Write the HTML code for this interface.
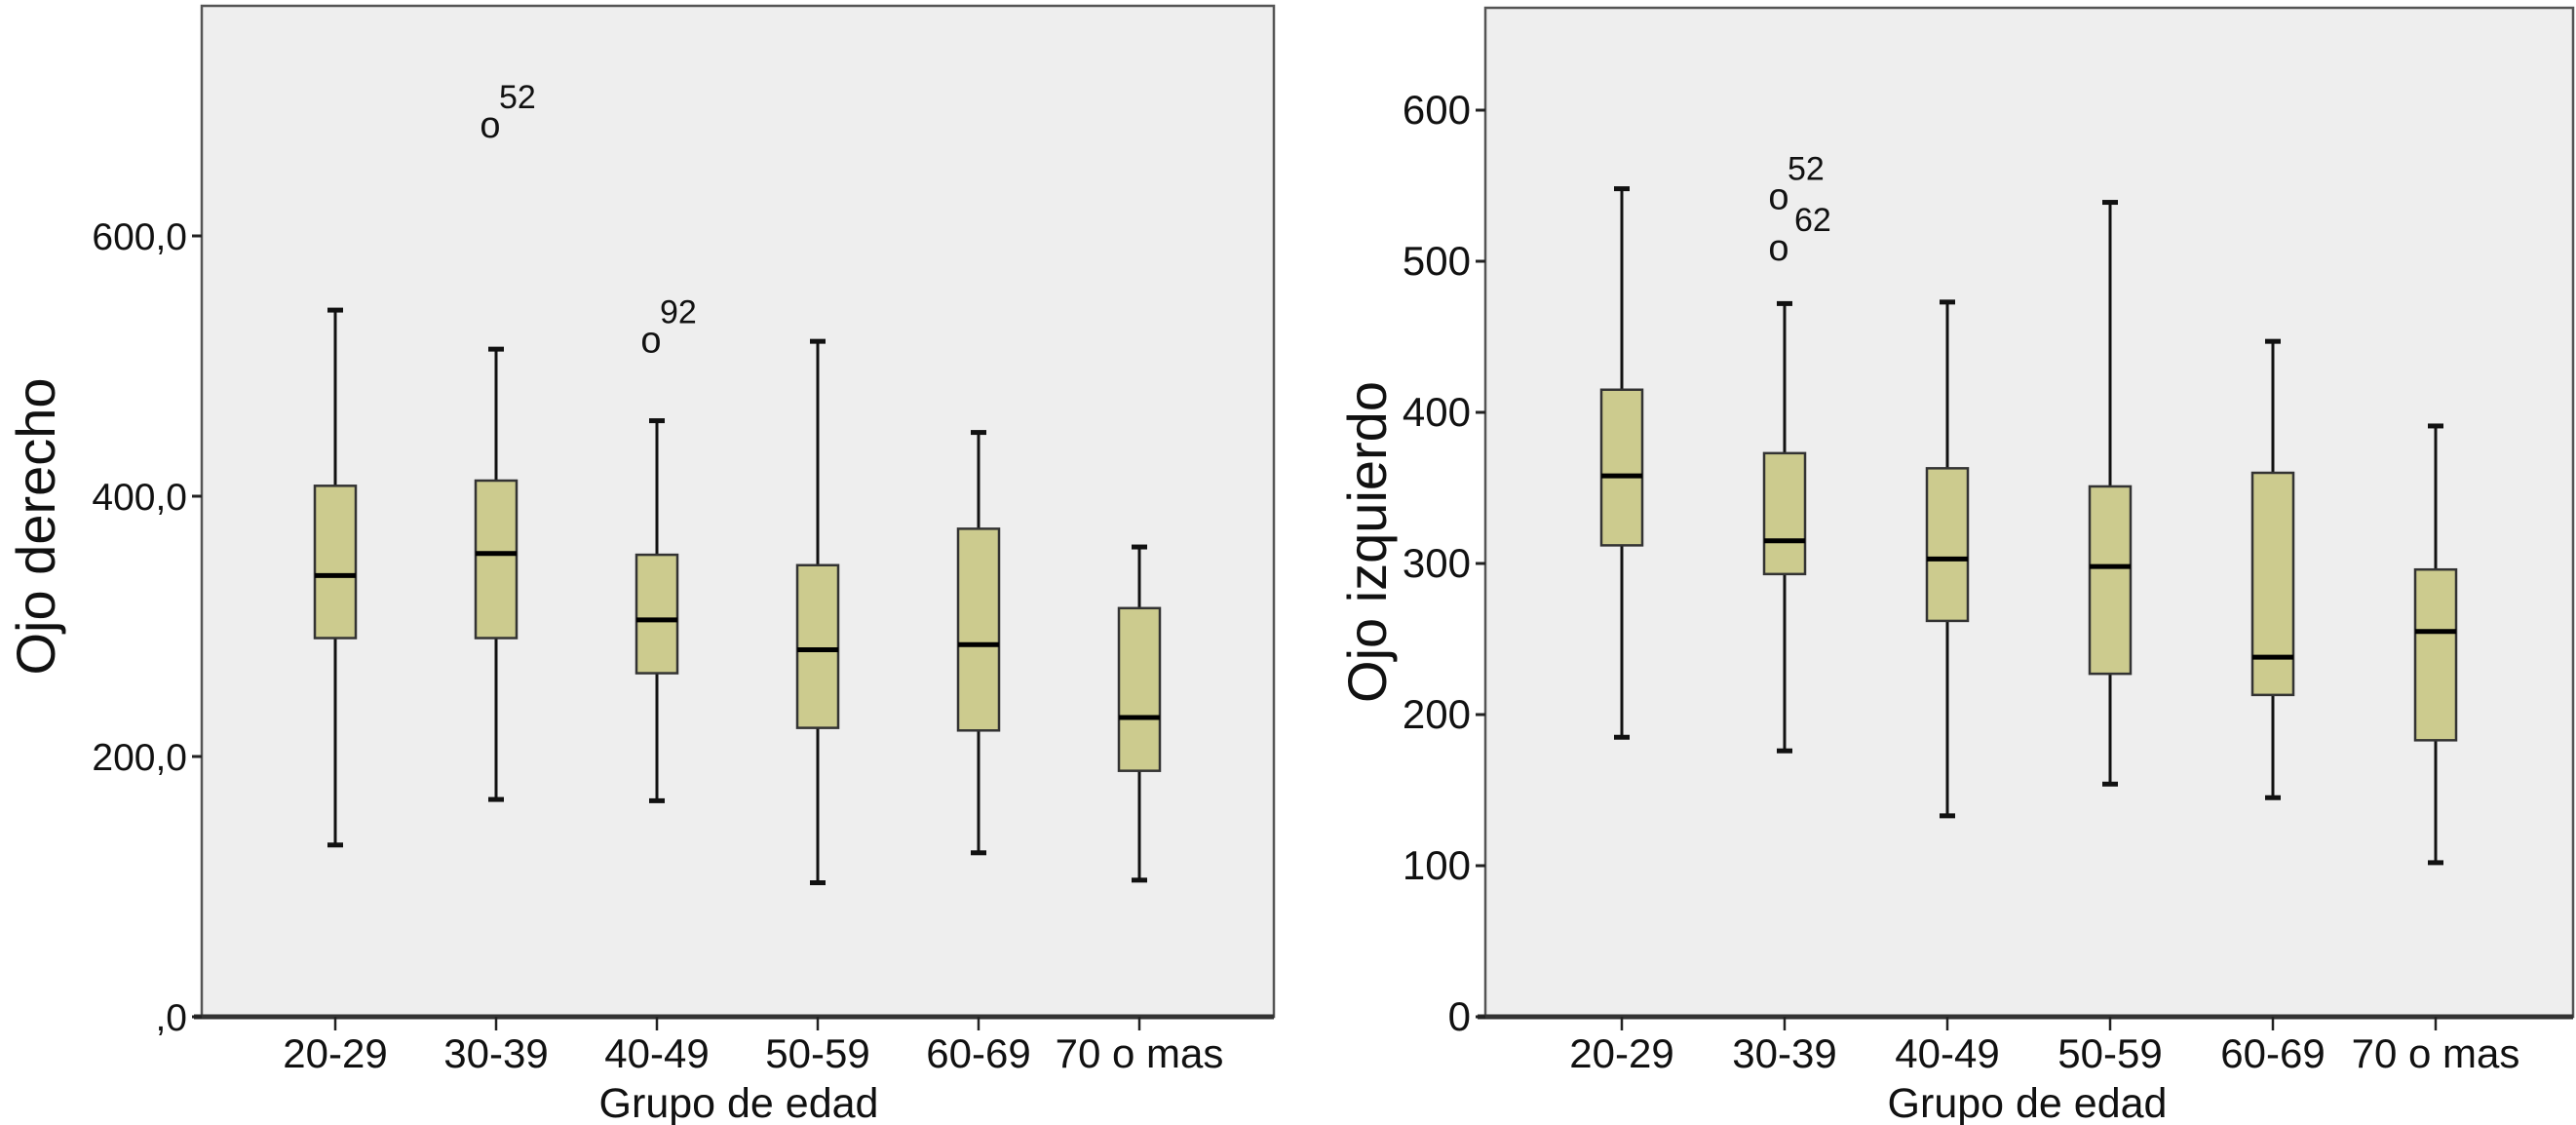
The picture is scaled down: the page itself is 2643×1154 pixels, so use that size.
<!DOCTYPE html>
<html><head><meta charset="utf-8"><style>
html,body{margin:0;padding:0;background:#fff;}
svg{display:block;font-family:"Liberation Sans",Arial,sans-serif;}
</style></head><body>
<svg id="chart" width="2643" height="1154" viewBox="0 0 2643 1154" xmlns="http://www.w3.org/2000/svg"></svg>
<script>
const categories = ["20-29","30-39","40-49","50-59","60-69","70 o mas"];
// Left: Ojo derecho
const leftMin = [132,167,166,103,126,105];
const leftQ1 = [291,291,264,222,220,189];
const leftMed = [339,356,305,282,286,230];
const leftQ3 = [408,412,355,347,375,314];
const leftMax = [543,513,458,519,449,361];
const leftOutlierCat = [1,2];
const leftOutlierVal = [683,518];
const leftOutlierLbl = ["52","92"];
const leftTicks = [0,200,400,600];
const leftTickLabels = [",0","200,0","400,0","600,0"];
// Right: Ojo izquierdo
const rightMin = [185,176,133,154,145,102];
const rightQ1 = [312,293,262,227,213,183];
const rightMed = [358,315,303,298,238,255];
const rightQ3 = [415,373,363,351,360,296];
const rightMax = [548,472,473,539,447,391];
const rightOutlierCat = [1,1];
const rightOutlierVal = [541,507];
const rightOutlierLbl = ["52","62"];
const rightTicks = [0,100,200,300,400,500,600];
const rightTickLabels = ["0","100","200","300","400","500","600"];

const NS="http://www.w3.org/2000/svg";
const svg=document.getElementById('chart');
function mk(tag,attrs,parent){const e=document.createElementNS(NS,tag);for(const k in attrs)e.setAttribute(k,attrs[k]);(parent||svg).appendChild(e);return e;}

function panel(cfg){
  const g=mk('g',{});
  
  
  const y=v=>cfg.y0-v*cfg.ys;
  const x=i=>cfg.x0+i*cfg.dx;
  const bg=mk('rect',{x:cfg.left,y:cfg.top,width:cfg.right-cfg.left,height:cfg.y0-cfg.top,fill:'#eeeeee',stroke:'#555',"stroke-width":2.5},g);
  
  
  const ax=mk('line',{x1:cfg.left-8,x2:cfg.right,y1:cfg.y0,y2:cfg.y0,stroke:'#333',"stroke-width":5},g);
  
  
  cfg.ticks.forEach((t,i)=>{
    const l=mk('line',{x1:cfg.left-10,x2:cfg.left,y1:y(t),y2:y(t),stroke:'#222',"stroke-width":3},g);
    
    
    const tx=mk('text',{x:cfg.left-15,y:y(t)+14,"text-anchor":"end","font-size":cfg.tickFs,fill:'#111'},g);
    tx.textContent=cfg.tickLabels[i];
    
    
  });
  categories.forEach((c,i)=>{
    const cx=x(i);
    const tk=mk('line',{x1:cx,x2:cx,y1:cfg.y0,y2:cfg.y0+14,stroke:'#222',"stroke-width":2.5},g);
    
    
    const tl=mk('text',{x:cx,y:1095,"text-anchor":"middle","font-size":42,fill:'#111'},g);
    tl.textContent=c;
    
    
    const bw=42,cw=16;
    const wh=mk('line',{x1:cx,x2:cx,y1:y(cfg.max[i]),y2:y(cfg.min[i]),stroke:'#111',"stroke-width":3},g);
    
    
    [cfg.max[i],cfg.min[i]].forEach(v=>{
      const cap=mk('line',{x1:cx-cw/2,x2:cx+cw/2,y1:y(v),y2:y(v),stroke:'#111',"stroke-width":5},g);
      
      
    });
    const b=mk('rect',{x:cx-bw/2,y:y(cfg.q3[i]),width:bw,height:y(cfg.q1[i])-y(cfg.q3[i]),fill:'#cccb8e',stroke:'#333',"stroke-width":2.5},g);
    
    
    const m=mk('line',{x1:cx-bw/2,x2:cx+bw/2,y1:y(cfg.med[i]),y2:y(cfg.med[i]),stroke:'#000',"stroke-width":5},g);
    
    
  });
  cfg.oCat.forEach((ci,k)=>{
    const cx=x(ci), cy=y(cfg.oVal[k]);
    const o=mk('text',{x:cx-6,y:cy+10,"text-anchor":"middle","font-size":38,fill:'#111'},g);
    o.textContent='o';
    
    
    const lb=mk('text',{x:cx+(k==1&&cfg.stack?10:3),y:cy-20,"font-size":34,fill:'#111'},g);
    lb.textContent=cfg.oLbl[k];
    
    
  });
  const yt=mk('text',{x:0,y:0,"text-anchor":"middle","font-size":56,fill:'#111',transform:`translate(${cfg.ytx},${cfg.yty}) rotate(-90)`},g);
  yt.textContent=cfg.ytitle;
  
  
  const xt=mk('text',{x:cfg.xtx,y:1146,"text-anchor":"middle","font-size":43,fill:'#111'},g);
  xt.textContent='Grupo de edad';
  
  
}
panel({name:'left-chart-ojo-derecho',left:207,right:1307,top:6,y0:1043,ys:1.335,x0:344,dx:165,
  min:leftMin,q1:leftQ1,med:leftMed,q3:leftQ3,max:leftMax,oCat:leftOutlierCat,oVal:leftOutlierVal,oLbl:leftOutlierLbl,
  ticks:leftTicks,tickLabels:leftTickLabels,tickFs:39,ytitle:'Ojo derecho',ytx:56,yty:540,xtx:758,stack:false});
panel({name:'right-chart-ojo-izquierdo',left:1524,right:2640,top:8,y0:1043,ys:1.55,x0:1664,dx:167,
  min:rightMin,q1:rightQ1,med:rightMed,q3:rightQ3,max:rightMax,oCat:rightOutlierCat,oVal:rightOutlierVal,oLbl:rightOutlierLbl,
  ticks:rightTicks,tickLabels:rightTickLabels,tickFs:42,ytitle:'Ojo izquierdo',ytx:1422,yty:556,xtx:2080,stack:true});
</script>
</body></html>
